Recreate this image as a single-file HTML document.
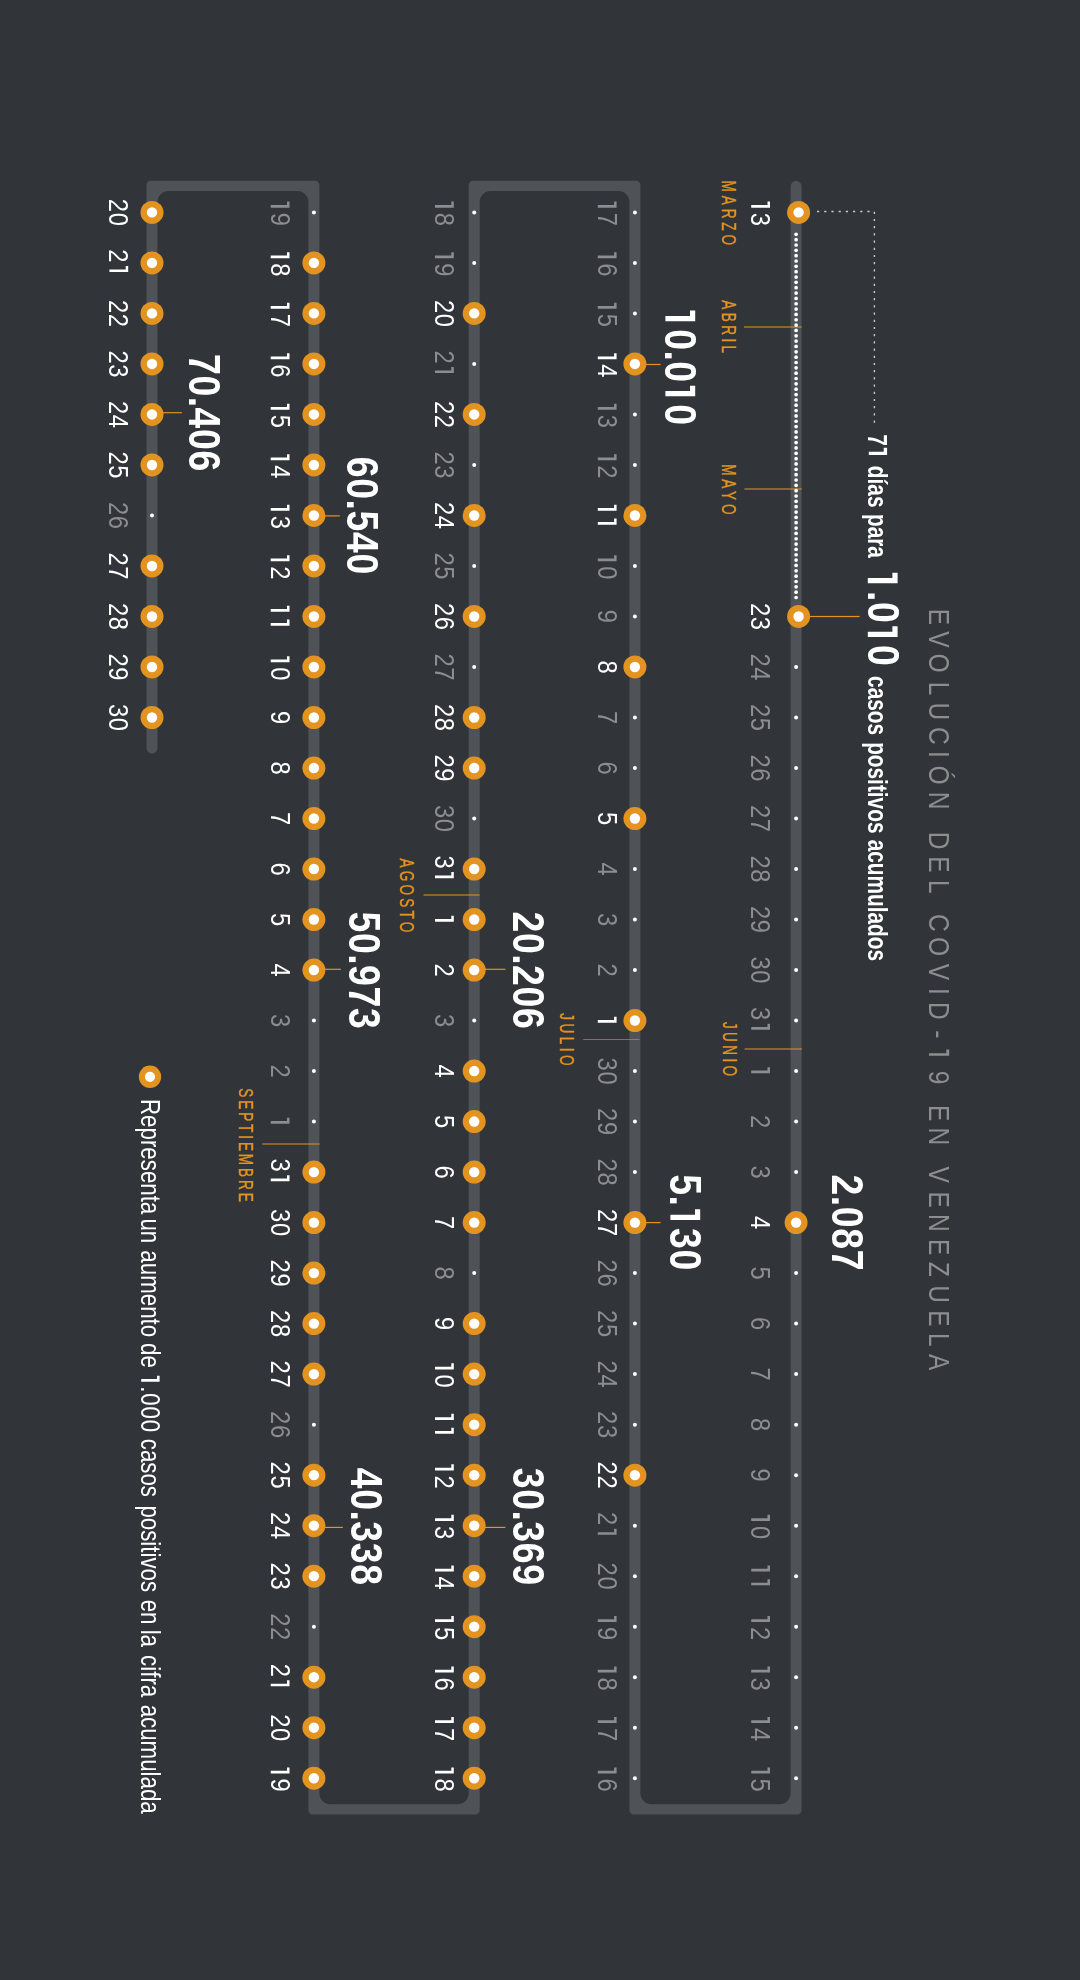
<!DOCTYPE html>
<html><head><meta charset="utf-8"><style>
html,body{margin:0;padding:0;background:#313438;width:1080px;height:1980px;overflow:hidden}
svg{display:block;will-change:transform}
</style></head><body>
<svg width="1080" height="1980" viewBox="0 0 1080 1980">
<rect x="0" y="0" width="1080" height="1980" fill="#313438"/>
<path d="M790.60,186.30 A5.5,5.5 0 0 1 801.60,186.30 L801.60,1810.10 A4.3,4.3 0 0 1 797.30,1814.40 L633.70,1814.40 A4.3,4.3 0 0 1 629.40,1810.10 L629.40,202.00 A11.0,11.0 0 0 0 618.40,191.00 L490.70,191.00 A11.0,11.0 0 0 0 479.70,202.00 L479.70,1810.10 A4.3,4.3 0 0 1 475.40,1814.40 L312.70,1814.40 A4.3,4.3 0 0 1 308.40,1810.10 L308.40,202.00 A11.0,11.0 0 0 0 297.40,191.00 L168.50,191.00 A11.0,11.0 0 0 0 157.50,202.00 L157.50,748.00 A5.5,5.5 0 0 1 146.50,748.00 L146.50,185.10 A4.3,4.3 0 0 1 150.80,180.80 L315.10,180.80 A4.3,4.3 0 0 1 319.40,185.10 L319.40,1793.20 A11.0,11.0 0 0 0 330.40,1804.20 L457.70,1804.20 A11.0,11.0 0 0 0 468.70,1793.20 L468.70,185.10 A4.3,4.3 0 0 1 473.00,180.80 L636.10,180.80 A4.3,4.3 0 0 1 640.40,185.10 L640.40,1793.20 A11.0,11.0 0 0 0 651.40,1804.20 L779.60,1804.20 A11.0,11.0 0 0 0 790.60,1793.20 Z" fill="#4f5358"/>
<rect x="744.00" y="326.50" width="57.60" height="1.0" fill="#e3931f" opacity="1"/>
<rect x="744.40" y="488.50" width="57.30" height="1.0" fill="#e3931f" opacity="1"/>
<rect x="744.70" y="1048.50" width="57.20" height="1.0" fill="#e3931f" opacity="1"/>
<rect x="583.10" y="1039.00" width="56.50" height="1.0" fill="#e3931f" opacity="0.6"/>
<rect x="423.50" y="894.50" width="56.10" height="1.0" fill="#e3931f" opacity="1"/>
<rect x="262.20" y="1143.50" width="57.40" height="1.0" fill="#e3931f" opacity="1"/>
<circle cx="796.1" cy="234.30" r="1.85" fill="#fff"/>
<circle cx="796.1" cy="239.64" r="1.85" fill="#fff"/>
<circle cx="796.1" cy="244.98" r="1.85" fill="#fff"/>
<circle cx="796.1" cy="250.32" r="1.85" fill="#fff"/>
<circle cx="796.1" cy="255.66" r="1.85" fill="#fff"/>
<circle cx="796.1" cy="261.01" r="1.85" fill="#fff"/>
<circle cx="796.1" cy="266.35" r="1.85" fill="#fff"/>
<circle cx="796.1" cy="271.69" r="1.85" fill="#fff"/>
<circle cx="796.1" cy="277.03" r="1.85" fill="#fff"/>
<circle cx="796.1" cy="282.37" r="1.85" fill="#fff"/>
<circle cx="796.1" cy="287.71" r="1.85" fill="#fff"/>
<circle cx="796.1" cy="293.05" r="1.85" fill="#fff"/>
<circle cx="796.1" cy="298.39" r="1.85" fill="#fff"/>
<circle cx="796.1" cy="303.74" r="1.85" fill="#fff"/>
<circle cx="796.1" cy="309.08" r="1.85" fill="#fff"/>
<circle cx="796.1" cy="314.42" r="1.85" fill="#fff"/>
<circle cx="796.1" cy="319.76" r="1.85" fill="#fff"/>
<circle cx="796.1" cy="325.10" r="1.85" fill="#fff"/>
<circle cx="796.1" cy="330.44" r="1.85" fill="#fff"/>
<circle cx="796.1" cy="335.78" r="1.85" fill="#fff"/>
<circle cx="796.1" cy="341.12" r="1.85" fill="#fff"/>
<circle cx="796.1" cy="346.46" r="1.85" fill="#fff"/>
<circle cx="796.1" cy="351.81" r="1.85" fill="#fff"/>
<circle cx="796.1" cy="357.15" r="1.85" fill="#fff"/>
<circle cx="796.1" cy="362.49" r="1.85" fill="#fff"/>
<circle cx="796.1" cy="367.83" r="1.85" fill="#fff"/>
<circle cx="796.1" cy="373.17" r="1.85" fill="#fff"/>
<circle cx="796.1" cy="378.51" r="1.85" fill="#fff"/>
<circle cx="796.1" cy="383.85" r="1.85" fill="#fff"/>
<circle cx="796.1" cy="389.19" r="1.85" fill="#fff"/>
<circle cx="796.1" cy="394.54" r="1.85" fill="#fff"/>
<circle cx="796.1" cy="399.88" r="1.85" fill="#fff"/>
<circle cx="796.1" cy="405.22" r="1.85" fill="#fff"/>
<circle cx="796.1" cy="410.56" r="1.85" fill="#fff"/>
<circle cx="796.1" cy="415.90" r="1.85" fill="#fff"/>
<circle cx="796.1" cy="421.24" r="1.85" fill="#fff"/>
<circle cx="796.1" cy="426.58" r="1.85" fill="#fff"/>
<circle cx="796.1" cy="431.92" r="1.85" fill="#fff"/>
<circle cx="796.1" cy="437.26" r="1.85" fill="#fff"/>
<circle cx="796.1" cy="442.61" r="1.85" fill="#fff"/>
<circle cx="796.1" cy="447.95" r="1.85" fill="#fff"/>
<circle cx="796.1" cy="453.29" r="1.85" fill="#fff"/>
<circle cx="796.1" cy="458.63" r="1.85" fill="#fff"/>
<circle cx="796.1" cy="463.97" r="1.85" fill="#fff"/>
<circle cx="796.1" cy="469.31" r="1.85" fill="#fff"/>
<circle cx="796.1" cy="474.65" r="1.85" fill="#fff"/>
<circle cx="796.1" cy="479.99" r="1.85" fill="#fff"/>
<circle cx="796.1" cy="485.34" r="1.85" fill="#fff"/>
<circle cx="796.1" cy="490.68" r="1.85" fill="#fff"/>
<circle cx="796.1" cy="496.02" r="1.85" fill="#fff"/>
<circle cx="796.1" cy="501.36" r="1.85" fill="#fff"/>
<circle cx="796.1" cy="506.70" r="1.85" fill="#fff"/>
<circle cx="796.1" cy="512.04" r="1.85" fill="#fff"/>
<circle cx="796.1" cy="517.38" r="1.85" fill="#fff"/>
<circle cx="796.1" cy="522.72" r="1.85" fill="#fff"/>
<circle cx="796.1" cy="528.06" r="1.85" fill="#fff"/>
<circle cx="796.1" cy="533.41" r="1.85" fill="#fff"/>
<circle cx="796.1" cy="538.75" r="1.85" fill="#fff"/>
<circle cx="796.1" cy="544.09" r="1.85" fill="#fff"/>
<circle cx="796.1" cy="549.43" r="1.85" fill="#fff"/>
<circle cx="796.1" cy="554.77" r="1.85" fill="#fff"/>
<circle cx="796.1" cy="560.11" r="1.85" fill="#fff"/>
<circle cx="796.1" cy="565.45" r="1.85" fill="#fff"/>
<circle cx="796.1" cy="570.79" r="1.85" fill="#fff"/>
<circle cx="796.1" cy="576.14" r="1.85" fill="#fff"/>
<circle cx="796.1" cy="581.48" r="1.85" fill="#fff"/>
<circle cx="796.1" cy="586.82" r="1.85" fill="#fff"/>
<circle cx="796.1" cy="592.16" r="1.85" fill="#fff"/>
<circle cx="796.1" cy="597.50" r="1.85" fill="#fff"/>
<rect x="808.60" y="615.90" width="51.00" height="1.2" fill="#e3931f" opacity="1"/>
<rect x="644.90" y="1222.00" width="15.70" height="1.2" fill="#e3931f" opacity="1"/>
<rect x="644.90" y="363.90" width="15.80" height="1.2" fill="#e3931f" opacity="1"/>
<rect x="484.20" y="968.70" width="21.20" height="1.2" fill="#e3931f" opacity="1"/>
<rect x="484.20" y="1526.80" width="21.20" height="1.2" fill="#e3931f" opacity="1"/>
<rect x="323.90" y="1526.80" width="18.90" height="1.2" fill="#e3931f" opacity="1"/>
<rect x="323.90" y="968.70" width="17.00" height="1.2" fill="#e3931f" opacity="1"/>
<rect x="323.90" y="515.30" width="15.90" height="1.2" fill="#e3931f" opacity="1"/>
<rect x="162.00" y="412.10" width="19.90" height="1.2" fill="#e3931f" opacity="1"/>
<path d="M817 211.5 H874.4 V423" fill="none" stroke="#c9cacb" stroke-width="1.4" stroke-dasharray="2.2 5"/>
<circle cx="798.60" cy="212.40" r="11.5" fill="#e3931f"/><circle cx="798.60" cy="212.40" r="5.2" fill="#fff"/>
<circle cx="798.60" cy="616.48" r="11.5" fill="#e3931f"/><circle cx="798.60" cy="616.48" r="5.2" fill="#fff"/>
<circle cx="796.10" cy="666.99" r="2.0" fill="#fff"/>
<circle cx="796.10" cy="717.50" r="2.0" fill="#fff"/>
<circle cx="796.10" cy="768.01" r="2.0" fill="#fff"/>
<circle cx="796.10" cy="818.52" r="2.0" fill="#fff"/>
<circle cx="796.10" cy="869.03" r="2.0" fill="#fff"/>
<circle cx="796.10" cy="919.54" r="2.0" fill="#fff"/>
<circle cx="796.10" cy="970.05" r="2.0" fill="#fff"/>
<circle cx="796.10" cy="1020.55" r="2.0" fill="#fff"/>
<circle cx="796.10" cy="1071.06" r="2.0" fill="#fff"/>
<circle cx="796.10" cy="1121.57" r="2.0" fill="#fff"/>
<circle cx="796.10" cy="1172.08" r="2.0" fill="#fff"/>
<circle cx="796.10" cy="1222.59" r="11.5" fill="#e3931f"/><circle cx="796.10" cy="1222.59" r="5.2" fill="#fff"/>
<circle cx="796.10" cy="1273.10" r="2.0" fill="#fff"/>
<circle cx="796.10" cy="1323.61" r="2.0" fill="#fff"/>
<circle cx="796.10" cy="1374.12" r="2.0" fill="#fff"/>
<circle cx="796.10" cy="1424.63" r="2.0" fill="#fff"/>
<circle cx="796.10" cy="1475.14" r="2.0" fill="#fff"/>
<circle cx="796.10" cy="1525.65" r="2.0" fill="#fff"/>
<circle cx="796.10" cy="1576.16" r="2.0" fill="#fff"/>
<circle cx="796.10" cy="1626.67" r="2.0" fill="#fff"/>
<circle cx="796.10" cy="1677.18" r="2.0" fill="#fff"/>
<circle cx="796.10" cy="1727.69" r="2.0" fill="#fff"/>
<circle cx="796.10" cy="1778.20" r="2.0" fill="#fff"/>
<circle cx="634.90" cy="1778.20" r="2.0" fill="#fff"/>
<circle cx="634.90" cy="1727.69" r="2.0" fill="#fff"/>
<circle cx="634.90" cy="1677.18" r="2.0" fill="#fff"/>
<circle cx="634.90" cy="1626.67" r="2.0" fill="#fff"/>
<circle cx="634.90" cy="1576.16" r="2.0" fill="#fff"/>
<circle cx="634.90" cy="1525.65" r="2.0" fill="#fff"/>
<circle cx="634.90" cy="1475.14" r="11.5" fill="#e3931f"/><circle cx="634.90" cy="1475.14" r="5.2" fill="#fff"/>
<circle cx="634.90" cy="1424.63" r="2.0" fill="#fff"/>
<circle cx="634.90" cy="1374.12" r="2.0" fill="#fff"/>
<circle cx="634.90" cy="1323.61" r="2.0" fill="#fff"/>
<circle cx="634.90" cy="1273.10" r="2.0" fill="#fff"/>
<circle cx="634.90" cy="1222.59" r="11.5" fill="#e3931f"/><circle cx="634.90" cy="1222.59" r="5.2" fill="#fff"/>
<circle cx="634.90" cy="1172.08" r="2.0" fill="#fff"/>
<circle cx="634.90" cy="1121.57" r="2.0" fill="#fff"/>
<circle cx="634.90" cy="1071.06" r="2.0" fill="#fff"/>
<circle cx="634.90" cy="1020.55" r="11.5" fill="#e3931f"/><circle cx="634.90" cy="1020.55" r="5.2" fill="#fff"/>
<circle cx="634.90" cy="970.05" r="2.0" fill="#fff"/>
<circle cx="634.90" cy="919.54" r="2.0" fill="#fff"/>
<circle cx="634.90" cy="869.03" r="2.0" fill="#fff"/>
<circle cx="634.90" cy="818.52" r="11.5" fill="#e3931f"/><circle cx="634.90" cy="818.52" r="5.2" fill="#fff"/>
<circle cx="634.90" cy="768.01" r="2.0" fill="#fff"/>
<circle cx="634.90" cy="717.50" r="2.0" fill="#fff"/>
<circle cx="634.90" cy="666.99" r="11.5" fill="#e3931f"/><circle cx="634.90" cy="666.99" r="5.2" fill="#fff"/>
<circle cx="634.90" cy="616.48" r="2.0" fill="#fff"/>
<circle cx="634.90" cy="565.97" r="2.0" fill="#fff"/>
<circle cx="634.90" cy="515.46" r="11.5" fill="#e3931f"/><circle cx="634.90" cy="515.46" r="5.2" fill="#fff"/>
<circle cx="634.90" cy="464.95" r="2.0" fill="#fff"/>
<circle cx="634.90" cy="414.44" r="2.0" fill="#fff"/>
<circle cx="634.90" cy="363.93" r="11.5" fill="#e3931f"/><circle cx="634.90" cy="363.93" r="5.2" fill="#fff"/>
<circle cx="634.90" cy="313.42" r="2.0" fill="#fff"/>
<circle cx="634.90" cy="262.91" r="2.0" fill="#fff"/>
<circle cx="634.90" cy="212.40" r="2.0" fill="#fff"/>
<circle cx="474.20" cy="212.40" r="2.0" fill="#fff"/>
<circle cx="474.20" cy="262.91" r="2.0" fill="#fff"/>
<circle cx="474.20" cy="313.42" r="11.5" fill="#e3931f"/><circle cx="474.20" cy="313.42" r="5.2" fill="#fff"/>
<circle cx="474.20" cy="363.93" r="2.0" fill="#fff"/>
<circle cx="474.20" cy="414.44" r="11.5" fill="#e3931f"/><circle cx="474.20" cy="414.44" r="5.2" fill="#fff"/>
<circle cx="474.20" cy="464.95" r="2.0" fill="#fff"/>
<circle cx="474.20" cy="515.46" r="11.5" fill="#e3931f"/><circle cx="474.20" cy="515.46" r="5.2" fill="#fff"/>
<circle cx="474.20" cy="565.97" r="2.0" fill="#fff"/>
<circle cx="474.20" cy="616.48" r="11.5" fill="#e3931f"/><circle cx="474.20" cy="616.48" r="5.2" fill="#fff"/>
<circle cx="474.20" cy="666.99" r="2.0" fill="#fff"/>
<circle cx="474.20" cy="717.50" r="11.5" fill="#e3931f"/><circle cx="474.20" cy="717.50" r="5.2" fill="#fff"/>
<circle cx="474.20" cy="768.01" r="11.5" fill="#e3931f"/><circle cx="474.20" cy="768.01" r="5.2" fill="#fff"/>
<circle cx="474.20" cy="818.52" r="2.0" fill="#fff"/>
<circle cx="474.20" cy="869.03" r="11.5" fill="#e3931f"/><circle cx="474.20" cy="869.03" r="5.2" fill="#fff"/>
<circle cx="474.20" cy="919.54" r="11.5" fill="#e3931f"/><circle cx="474.20" cy="919.54" r="5.2" fill="#fff"/>
<circle cx="474.20" cy="970.05" r="11.5" fill="#e3931f"/><circle cx="474.20" cy="970.05" r="5.2" fill="#fff"/>
<circle cx="474.20" cy="1020.55" r="2.0" fill="#fff"/>
<circle cx="474.20" cy="1071.06" r="11.5" fill="#e3931f"/><circle cx="474.20" cy="1071.06" r="5.2" fill="#fff"/>
<circle cx="474.20" cy="1121.57" r="11.5" fill="#e3931f"/><circle cx="474.20" cy="1121.57" r="5.2" fill="#fff"/>
<circle cx="474.20" cy="1172.08" r="11.5" fill="#e3931f"/><circle cx="474.20" cy="1172.08" r="5.2" fill="#fff"/>
<circle cx="474.20" cy="1222.59" r="11.5" fill="#e3931f"/><circle cx="474.20" cy="1222.59" r="5.2" fill="#fff"/>
<circle cx="474.20" cy="1273.10" r="2.0" fill="#fff"/>
<circle cx="474.20" cy="1323.61" r="11.5" fill="#e3931f"/><circle cx="474.20" cy="1323.61" r="5.2" fill="#fff"/>
<circle cx="474.20" cy="1374.12" r="11.5" fill="#e3931f"/><circle cx="474.20" cy="1374.12" r="5.2" fill="#fff"/>
<circle cx="474.20" cy="1424.63" r="11.5" fill="#e3931f"/><circle cx="474.20" cy="1424.63" r="5.2" fill="#fff"/>
<circle cx="474.20" cy="1475.14" r="11.5" fill="#e3931f"/><circle cx="474.20" cy="1475.14" r="5.2" fill="#fff"/>
<circle cx="474.20" cy="1525.65" r="11.5" fill="#e3931f"/><circle cx="474.20" cy="1525.65" r="5.2" fill="#fff"/>
<circle cx="474.20" cy="1576.16" r="11.5" fill="#e3931f"/><circle cx="474.20" cy="1576.16" r="5.2" fill="#fff"/>
<circle cx="474.20" cy="1626.67" r="11.5" fill="#e3931f"/><circle cx="474.20" cy="1626.67" r="5.2" fill="#fff"/>
<circle cx="474.20" cy="1677.18" r="11.5" fill="#e3931f"/><circle cx="474.20" cy="1677.18" r="5.2" fill="#fff"/>
<circle cx="474.20" cy="1727.69" r="11.5" fill="#e3931f"/><circle cx="474.20" cy="1727.69" r="5.2" fill="#fff"/>
<circle cx="474.20" cy="1778.20" r="11.5" fill="#e3931f"/><circle cx="474.20" cy="1778.20" r="5.2" fill="#fff"/>
<circle cx="313.90" cy="1778.20" r="11.5" fill="#e3931f"/><circle cx="313.90" cy="1778.20" r="5.2" fill="#fff"/>
<circle cx="313.90" cy="1727.69" r="11.5" fill="#e3931f"/><circle cx="313.90" cy="1727.69" r="5.2" fill="#fff"/>
<circle cx="313.90" cy="1677.18" r="11.5" fill="#e3931f"/><circle cx="313.90" cy="1677.18" r="5.2" fill="#fff"/>
<circle cx="313.90" cy="1626.67" r="2.0" fill="#fff"/>
<circle cx="313.90" cy="1576.16" r="11.5" fill="#e3931f"/><circle cx="313.90" cy="1576.16" r="5.2" fill="#fff"/>
<circle cx="313.90" cy="1525.65" r="11.5" fill="#e3931f"/><circle cx="313.90" cy="1525.65" r="5.2" fill="#fff"/>
<circle cx="313.90" cy="1475.14" r="11.5" fill="#e3931f"/><circle cx="313.90" cy="1475.14" r="5.2" fill="#fff"/>
<circle cx="313.90" cy="1424.63" r="2.0" fill="#fff"/>
<circle cx="313.90" cy="1374.12" r="11.5" fill="#e3931f"/><circle cx="313.90" cy="1374.12" r="5.2" fill="#fff"/>
<circle cx="313.90" cy="1323.61" r="11.5" fill="#e3931f"/><circle cx="313.90" cy="1323.61" r="5.2" fill="#fff"/>
<circle cx="313.90" cy="1273.10" r="11.5" fill="#e3931f"/><circle cx="313.90" cy="1273.10" r="5.2" fill="#fff"/>
<circle cx="313.90" cy="1222.59" r="11.5" fill="#e3931f"/><circle cx="313.90" cy="1222.59" r="5.2" fill="#fff"/>
<circle cx="313.90" cy="1172.08" r="11.5" fill="#e3931f"/><circle cx="313.90" cy="1172.08" r="5.2" fill="#fff"/>
<circle cx="313.90" cy="1121.57" r="2.0" fill="#fff"/>
<circle cx="313.90" cy="1071.06" r="2.0" fill="#fff"/>
<circle cx="313.90" cy="1020.55" r="2.0" fill="#fff"/>
<circle cx="313.90" cy="970.05" r="11.5" fill="#e3931f"/><circle cx="313.90" cy="970.05" r="5.2" fill="#fff"/>
<circle cx="313.90" cy="919.54" r="11.5" fill="#e3931f"/><circle cx="313.90" cy="919.54" r="5.2" fill="#fff"/>
<circle cx="313.90" cy="869.03" r="11.5" fill="#e3931f"/><circle cx="313.90" cy="869.03" r="5.2" fill="#fff"/>
<circle cx="313.90" cy="818.52" r="11.5" fill="#e3931f"/><circle cx="313.90" cy="818.52" r="5.2" fill="#fff"/>
<circle cx="313.90" cy="768.01" r="11.5" fill="#e3931f"/><circle cx="313.90" cy="768.01" r="5.2" fill="#fff"/>
<circle cx="313.90" cy="717.50" r="11.5" fill="#e3931f"/><circle cx="313.90" cy="717.50" r="5.2" fill="#fff"/>
<circle cx="313.90" cy="666.99" r="11.5" fill="#e3931f"/><circle cx="313.90" cy="666.99" r="5.2" fill="#fff"/>
<circle cx="313.90" cy="616.48" r="11.5" fill="#e3931f"/><circle cx="313.90" cy="616.48" r="5.2" fill="#fff"/>
<circle cx="313.90" cy="565.97" r="11.5" fill="#e3931f"/><circle cx="313.90" cy="565.97" r="5.2" fill="#fff"/>
<circle cx="313.90" cy="515.46" r="11.5" fill="#e3931f"/><circle cx="313.90" cy="515.46" r="5.2" fill="#fff"/>
<circle cx="313.90" cy="464.95" r="11.5" fill="#e3931f"/><circle cx="313.90" cy="464.95" r="5.2" fill="#fff"/>
<circle cx="313.90" cy="414.44" r="11.5" fill="#e3931f"/><circle cx="313.90" cy="414.44" r="5.2" fill="#fff"/>
<circle cx="313.90" cy="363.93" r="11.5" fill="#e3931f"/><circle cx="313.90" cy="363.93" r="5.2" fill="#fff"/>
<circle cx="313.90" cy="313.42" r="11.5" fill="#e3931f"/><circle cx="313.90" cy="313.42" r="5.2" fill="#fff"/>
<circle cx="313.90" cy="262.91" r="11.5" fill="#e3931f"/><circle cx="313.90" cy="262.91" r="5.2" fill="#fff"/>
<circle cx="313.90" cy="212.40" r="2.0" fill="#fff"/>
<circle cx="152.00" cy="212.40" r="11.5" fill="#e3931f"/><circle cx="152.00" cy="212.40" r="5.2" fill="#fff"/>
<circle cx="152.00" cy="262.91" r="11.5" fill="#e3931f"/><circle cx="152.00" cy="262.91" r="5.2" fill="#fff"/>
<circle cx="152.00" cy="313.42" r="11.5" fill="#e3931f"/><circle cx="152.00" cy="313.42" r="5.2" fill="#fff"/>
<circle cx="152.00" cy="363.93" r="11.5" fill="#e3931f"/><circle cx="152.00" cy="363.93" r="5.2" fill="#fff"/>
<circle cx="152.00" cy="414.44" r="11.5" fill="#e3931f"/><circle cx="152.00" cy="414.44" r="5.2" fill="#fff"/>
<circle cx="152.00" cy="464.95" r="11.5" fill="#e3931f"/><circle cx="152.00" cy="464.95" r="5.2" fill="#fff"/>
<circle cx="152.00" cy="515.46" r="2.0" fill="#fff"/>
<circle cx="152.00" cy="565.97" r="11.5" fill="#e3931f"/><circle cx="152.00" cy="565.97" r="5.2" fill="#fff"/>
<circle cx="152.00" cy="616.48" r="11.5" fill="#e3931f"/><circle cx="152.00" cy="616.48" r="5.2" fill="#fff"/>
<circle cx="152.00" cy="666.99" r="11.5" fill="#e3931f"/><circle cx="152.00" cy="666.99" r="5.2" fill="#fff"/>
<circle cx="152.00" cy="717.50" r="11.5" fill="#e3931f"/><circle cx="152.00" cy="717.50" r="5.2" fill="#fff"/>
<circle cx="150" cy="1076.8" r="11.2" fill="#e3931f"/><circle cx="150" cy="1076.8" r="5.1" fill="#fff"/>
<path d="M751.20,205.02 L751.20,207.72 L770.00,207.72 L770.00,201.62 L767.50,201.62 L767.50,205.02 Z" fill="#ffffff"/>
<text transform="translate(751.20,219.33) rotate(90) scale(0.85,1)" font-family="Liberation Sans" font-size="28" font-weight="normal" fill="#ffffff" text-anchor="middle">3</text>
<text transform="translate(751.20,609.55) rotate(90) scale(0.85,1)" font-family="Liberation Sans" font-size="28" font-weight="normal" fill="#ffffff" text-anchor="middle">2</text>
<text transform="translate(751.20,623.41) rotate(90) scale(0.85,1)" font-family="Liberation Sans" font-size="28" font-weight="normal" fill="#ffffff" text-anchor="middle">3</text>
<text transform="translate(751.20,660.06) rotate(90) scale(0.85,1)" font-family="Liberation Sans" font-size="28" font-weight="normal" fill="#8b8d90" text-anchor="middle">2</text>
<text transform="translate(751.20,673.92) rotate(90) scale(0.85,1)" font-family="Liberation Sans" font-size="28" font-weight="normal" fill="#8b8d90" text-anchor="middle">4</text>
<text transform="translate(751.20,710.57) rotate(90) scale(0.85,1)" font-family="Liberation Sans" font-size="28" font-weight="normal" fill="#8b8d90" text-anchor="middle">2</text>
<text transform="translate(751.20,724.43) rotate(90) scale(0.85,1)" font-family="Liberation Sans" font-size="28" font-weight="normal" fill="#8b8d90" text-anchor="middle">5</text>
<text transform="translate(751.20,761.08) rotate(90) scale(0.85,1)" font-family="Liberation Sans" font-size="28" font-weight="normal" fill="#8b8d90" text-anchor="middle">2</text>
<text transform="translate(751.20,774.94) rotate(90) scale(0.85,1)" font-family="Liberation Sans" font-size="28" font-weight="normal" fill="#8b8d90" text-anchor="middle">6</text>
<text transform="translate(751.20,811.59) rotate(90) scale(0.85,1)" font-family="Liberation Sans" font-size="28" font-weight="normal" fill="#8b8d90" text-anchor="middle">2</text>
<text transform="translate(751.20,825.45) rotate(90) scale(0.85,1)" font-family="Liberation Sans" font-size="28" font-weight="normal" fill="#8b8d90" text-anchor="middle">7</text>
<text transform="translate(751.20,862.10) rotate(90) scale(0.85,1)" font-family="Liberation Sans" font-size="28" font-weight="normal" fill="#8b8d90" text-anchor="middle">2</text>
<text transform="translate(751.20,875.96) rotate(90) scale(0.85,1)" font-family="Liberation Sans" font-size="28" font-weight="normal" fill="#8b8d90" text-anchor="middle">8</text>
<text transform="translate(751.20,912.61) rotate(90) scale(0.85,1)" font-family="Liberation Sans" font-size="28" font-weight="normal" fill="#8b8d90" text-anchor="middle">2</text>
<text transform="translate(751.20,926.47) rotate(90) scale(0.85,1)" font-family="Liberation Sans" font-size="28" font-weight="normal" fill="#8b8d90" text-anchor="middle">9</text>
<text transform="translate(751.20,963.12) rotate(90) scale(0.85,1)" font-family="Liberation Sans" font-size="28" font-weight="normal" fill="#8b8d90" text-anchor="middle">3</text>
<text transform="translate(751.20,976.98) rotate(90) scale(0.85,1)" font-family="Liberation Sans" font-size="28" font-weight="normal" fill="#8b8d90" text-anchor="middle">0</text>
<text transform="translate(751.20,1013.62) rotate(90) scale(0.85,1)" font-family="Liberation Sans" font-size="28" font-weight="normal" fill="#8b8d90" text-anchor="middle">3</text>
<path d="M751.20,1027.03 L751.20,1029.73 L770.00,1029.73 L770.00,1023.63 L767.50,1023.63 L767.50,1027.03 Z" fill="#8b8d90"/>
<path d="M751.20,1070.61 L751.20,1073.31 L770.00,1073.31 L770.00,1067.21 L767.50,1067.21 L767.50,1070.61 Z" fill="#8b8d90"/>
<text transform="translate(751.20,1121.57) rotate(90) scale(0.85,1)" font-family="Liberation Sans" font-size="28" font-weight="normal" fill="#8b8d90" text-anchor="middle">2</text>
<text transform="translate(751.20,1172.08) rotate(90) scale(0.85,1)" font-family="Liberation Sans" font-size="28" font-weight="normal" fill="#8b8d90" text-anchor="middle">3</text>
<text transform="translate(751.20,1222.59) rotate(90) scale(0.85,1)" font-family="Liberation Sans" font-size="28" font-weight="normal" fill="#ffffff" text-anchor="middle">4</text>
<text transform="translate(751.20,1273.10) rotate(90) scale(0.85,1)" font-family="Liberation Sans" font-size="28" font-weight="normal" fill="#8b8d90" text-anchor="middle">5</text>
<text transform="translate(751.20,1323.61) rotate(90) scale(0.85,1)" font-family="Liberation Sans" font-size="28" font-weight="normal" fill="#8b8d90" text-anchor="middle">6</text>
<text transform="translate(751.20,1374.12) rotate(90) scale(0.85,1)" font-family="Liberation Sans" font-size="28" font-weight="normal" fill="#8b8d90" text-anchor="middle">7</text>
<text transform="translate(751.20,1424.63) rotate(90) scale(0.85,1)" font-family="Liberation Sans" font-size="28" font-weight="normal" fill="#8b8d90" text-anchor="middle">8</text>
<text transform="translate(751.20,1475.14) rotate(90) scale(0.85,1)" font-family="Liberation Sans" font-size="28" font-weight="normal" fill="#8b8d90" text-anchor="middle">9</text>
<path d="M751.20,1518.27 L751.20,1520.97 L770.00,1520.97 L770.00,1514.87 L767.50,1514.87 L767.50,1518.27 Z" fill="#8b8d90"/>
<text transform="translate(751.20,1532.58) rotate(90) scale(0.85,1)" font-family="Liberation Sans" font-size="28" font-weight="normal" fill="#8b8d90" text-anchor="middle">0</text>
<path d="M751.20,1568.78 L751.20,1571.48 L770.00,1571.48 L770.00,1565.38 L767.50,1565.38 L767.50,1568.78 Z" fill="#8b8d90"/>
<path d="M751.20,1582.64 L751.20,1585.34 L770.00,1585.34 L770.00,1579.24 L767.50,1579.24 L767.50,1582.64 Z" fill="#8b8d90"/>
<path d="M751.20,1619.29 L751.20,1621.99 L770.00,1621.99 L770.00,1615.89 L767.50,1615.89 L767.50,1619.29 Z" fill="#8b8d90"/>
<text transform="translate(751.20,1633.60) rotate(90) scale(0.85,1)" font-family="Liberation Sans" font-size="28" font-weight="normal" fill="#8b8d90" text-anchor="middle">2</text>
<path d="M751.20,1669.80 L751.20,1672.50 L770.00,1672.50 L770.00,1666.40 L767.50,1666.40 L767.50,1669.80 Z" fill="#8b8d90"/>
<text transform="translate(751.20,1684.11) rotate(90) scale(0.85,1)" font-family="Liberation Sans" font-size="28" font-weight="normal" fill="#8b8d90" text-anchor="middle">3</text>
<path d="M751.20,1720.31 L751.20,1723.01 L770.00,1723.01 L770.00,1716.91 L767.50,1716.91 L767.50,1720.31 Z" fill="#8b8d90"/>
<text transform="translate(751.20,1734.62) rotate(90) scale(0.85,1)" font-family="Liberation Sans" font-size="28" font-weight="normal" fill="#8b8d90" text-anchor="middle">4</text>
<path d="M751.20,1770.82 L751.20,1773.52 L770.00,1773.52 L770.00,1767.42 L767.50,1767.42 L767.50,1770.82 Z" fill="#8b8d90"/>
<text transform="translate(751.20,1785.13) rotate(90) scale(0.85,1)" font-family="Liberation Sans" font-size="28" font-weight="normal" fill="#8b8d90" text-anchor="middle">5</text>
<path d="M597.80,1770.82 L597.80,1773.52 L616.60,1773.52 L616.60,1767.42 L614.10,1767.42 L614.10,1770.82 Z" fill="#8b8d90"/>
<text transform="translate(597.80,1785.13) rotate(90) scale(0.85,1)" font-family="Liberation Sans" font-size="28" font-weight="normal" fill="#8b8d90" text-anchor="middle">6</text>
<path d="M597.80,1720.31 L597.80,1723.01 L616.60,1723.01 L616.60,1716.91 L614.10,1716.91 L614.10,1720.31 Z" fill="#8b8d90"/>
<text transform="translate(597.80,1734.62) rotate(90) scale(0.85,1)" font-family="Liberation Sans" font-size="28" font-weight="normal" fill="#8b8d90" text-anchor="middle">7</text>
<path d="M597.80,1669.80 L597.80,1672.50 L616.60,1672.50 L616.60,1666.40 L614.10,1666.40 L614.10,1669.80 Z" fill="#8b8d90"/>
<text transform="translate(597.80,1684.11) rotate(90) scale(0.85,1)" font-family="Liberation Sans" font-size="28" font-weight="normal" fill="#8b8d90" text-anchor="middle">8</text>
<path d="M597.80,1619.29 L597.80,1621.99 L616.60,1621.99 L616.60,1615.89 L614.10,1615.89 L614.10,1619.29 Z" fill="#8b8d90"/>
<text transform="translate(597.80,1633.60) rotate(90) scale(0.85,1)" font-family="Liberation Sans" font-size="28" font-weight="normal" fill="#8b8d90" text-anchor="middle">9</text>
<text transform="translate(597.80,1569.23) rotate(90) scale(0.85,1)" font-family="Liberation Sans" font-size="28" font-weight="normal" fill="#8b8d90" text-anchor="middle">2</text>
<text transform="translate(597.80,1583.09) rotate(90) scale(0.85,1)" font-family="Liberation Sans" font-size="28" font-weight="normal" fill="#8b8d90" text-anchor="middle">0</text>
<text transform="translate(597.80,1518.72) rotate(90) scale(0.85,1)" font-family="Liberation Sans" font-size="28" font-weight="normal" fill="#8b8d90" text-anchor="middle">2</text>
<path d="M597.80,1532.13 L597.80,1534.83 L616.60,1534.83 L616.60,1528.73 L614.10,1528.73 L614.10,1532.13 Z" fill="#8b8d90"/>
<text transform="translate(597.80,1468.21) rotate(90) scale(0.85,1)" font-family="Liberation Sans" font-size="28" font-weight="normal" fill="#ffffff" text-anchor="middle">2</text>
<text transform="translate(597.80,1482.07) rotate(90) scale(0.85,1)" font-family="Liberation Sans" font-size="28" font-weight="normal" fill="#ffffff" text-anchor="middle">2</text>
<text transform="translate(597.80,1417.70) rotate(90) scale(0.85,1)" font-family="Liberation Sans" font-size="28" font-weight="normal" fill="#8b8d90" text-anchor="middle">2</text>
<text transform="translate(597.80,1431.56) rotate(90) scale(0.85,1)" font-family="Liberation Sans" font-size="28" font-weight="normal" fill="#8b8d90" text-anchor="middle">3</text>
<text transform="translate(597.80,1367.19) rotate(90) scale(0.85,1)" font-family="Liberation Sans" font-size="28" font-weight="normal" fill="#8b8d90" text-anchor="middle">2</text>
<text transform="translate(597.80,1381.05) rotate(90) scale(0.85,1)" font-family="Liberation Sans" font-size="28" font-weight="normal" fill="#8b8d90" text-anchor="middle">4</text>
<text transform="translate(597.80,1316.68) rotate(90) scale(0.85,1)" font-family="Liberation Sans" font-size="28" font-weight="normal" fill="#8b8d90" text-anchor="middle">2</text>
<text transform="translate(597.80,1330.54) rotate(90) scale(0.85,1)" font-family="Liberation Sans" font-size="28" font-weight="normal" fill="#8b8d90" text-anchor="middle">5</text>
<text transform="translate(597.80,1266.17) rotate(90) scale(0.85,1)" font-family="Liberation Sans" font-size="28" font-weight="normal" fill="#8b8d90" text-anchor="middle">2</text>
<text transform="translate(597.80,1280.03) rotate(90) scale(0.85,1)" font-family="Liberation Sans" font-size="28" font-weight="normal" fill="#8b8d90" text-anchor="middle">6</text>
<text transform="translate(597.80,1215.66) rotate(90) scale(0.85,1)" font-family="Liberation Sans" font-size="28" font-weight="normal" fill="#ffffff" text-anchor="middle">2</text>
<text transform="translate(597.80,1229.52) rotate(90) scale(0.85,1)" font-family="Liberation Sans" font-size="28" font-weight="normal" fill="#ffffff" text-anchor="middle">7</text>
<text transform="translate(597.80,1165.15) rotate(90) scale(0.85,1)" font-family="Liberation Sans" font-size="28" font-weight="normal" fill="#8b8d90" text-anchor="middle">2</text>
<text transform="translate(597.80,1179.01) rotate(90) scale(0.85,1)" font-family="Liberation Sans" font-size="28" font-weight="normal" fill="#8b8d90" text-anchor="middle">8</text>
<text transform="translate(597.80,1114.64) rotate(90) scale(0.85,1)" font-family="Liberation Sans" font-size="28" font-weight="normal" fill="#8b8d90" text-anchor="middle">2</text>
<text transform="translate(597.80,1128.50) rotate(90) scale(0.85,1)" font-family="Liberation Sans" font-size="28" font-weight="normal" fill="#8b8d90" text-anchor="middle">9</text>
<text transform="translate(597.80,1064.13) rotate(90) scale(0.85,1)" font-family="Liberation Sans" font-size="28" font-weight="normal" fill="#8b8d90" text-anchor="middle">3</text>
<text transform="translate(597.80,1077.99) rotate(90) scale(0.85,1)" font-family="Liberation Sans" font-size="28" font-weight="normal" fill="#8b8d90" text-anchor="middle">0</text>
<path d="M597.80,1020.10 L597.80,1022.80 L616.60,1022.80 L616.60,1016.70 L614.10,1016.70 L614.10,1020.10 Z" fill="#ffffff"/>
<text transform="translate(597.80,970.05) rotate(90) scale(0.85,1)" font-family="Liberation Sans" font-size="28" font-weight="normal" fill="#8b8d90" text-anchor="middle">2</text>
<text transform="translate(597.80,919.54) rotate(90) scale(0.85,1)" font-family="Liberation Sans" font-size="28" font-weight="normal" fill="#8b8d90" text-anchor="middle">3</text>
<text transform="translate(597.80,869.03) rotate(90) scale(0.85,1)" font-family="Liberation Sans" font-size="28" font-weight="normal" fill="#8b8d90" text-anchor="middle">4</text>
<text transform="translate(597.80,818.52) rotate(90) scale(0.85,1)" font-family="Liberation Sans" font-size="28" font-weight="normal" fill="#ffffff" text-anchor="middle">5</text>
<text transform="translate(597.80,768.01) rotate(90) scale(0.85,1)" font-family="Liberation Sans" font-size="28" font-weight="normal" fill="#8b8d90" text-anchor="middle">6</text>
<text transform="translate(597.80,717.50) rotate(90) scale(0.85,1)" font-family="Liberation Sans" font-size="28" font-weight="normal" fill="#8b8d90" text-anchor="middle">7</text>
<text transform="translate(597.80,666.99) rotate(90) scale(0.85,1)" font-family="Liberation Sans" font-size="28" font-weight="normal" fill="#ffffff" text-anchor="middle">8</text>
<text transform="translate(597.80,616.48) rotate(90) scale(0.85,1)" font-family="Liberation Sans" font-size="28" font-weight="normal" fill="#8b8d90" text-anchor="middle">9</text>
<path d="M597.80,558.59 L597.80,561.29 L616.60,561.29 L616.60,555.19 L614.10,555.19 L614.10,558.59 Z" fill="#8b8d90"/>
<text transform="translate(597.80,572.90) rotate(90) scale(0.85,1)" font-family="Liberation Sans" font-size="28" font-weight="normal" fill="#8b8d90" text-anchor="middle">0</text>
<path d="M597.80,508.08 L597.80,510.78 L616.60,510.78 L616.60,504.68 L614.10,504.68 L614.10,508.08 Z" fill="#ffffff"/>
<path d="M597.80,521.94 L597.80,524.64 L616.60,524.64 L616.60,518.54 L614.10,518.54 L614.10,521.94 Z" fill="#ffffff"/>
<path d="M597.80,457.57 L597.80,460.27 L616.60,460.27 L616.60,454.17 L614.10,454.17 L614.10,457.57 Z" fill="#8b8d90"/>
<text transform="translate(597.80,471.88) rotate(90) scale(0.85,1)" font-family="Liberation Sans" font-size="28" font-weight="normal" fill="#8b8d90" text-anchor="middle">2</text>
<path d="M597.80,407.06 L597.80,409.76 L616.60,409.76 L616.60,403.66 L614.10,403.66 L614.10,407.06 Z" fill="#8b8d90"/>
<text transform="translate(597.80,421.37) rotate(90) scale(0.85,1)" font-family="Liberation Sans" font-size="28" font-weight="normal" fill="#8b8d90" text-anchor="middle">3</text>
<path d="M597.80,356.55 L597.80,359.25 L616.60,359.25 L616.60,353.15 L614.10,353.15 L614.10,356.55 Z" fill="#ffffff"/>
<text transform="translate(597.80,370.86) rotate(90) scale(0.85,1)" font-family="Liberation Sans" font-size="28" font-weight="normal" fill="#ffffff" text-anchor="middle">4</text>
<path d="M597.80,306.04 L597.80,308.74 L616.60,308.74 L616.60,302.64 L614.10,302.64 L614.10,306.04 Z" fill="#8b8d90"/>
<text transform="translate(597.80,320.35) rotate(90) scale(0.85,1)" font-family="Liberation Sans" font-size="28" font-weight="normal" fill="#8b8d90" text-anchor="middle">5</text>
<path d="M597.80,255.53 L597.80,258.23 L616.60,258.23 L616.60,252.13 L614.10,252.13 L614.10,255.53 Z" fill="#8b8d90"/>
<text transform="translate(597.80,269.84) rotate(90) scale(0.85,1)" font-family="Liberation Sans" font-size="28" font-weight="normal" fill="#8b8d90" text-anchor="middle">6</text>
<path d="M597.80,205.02 L597.80,207.72 L616.60,207.72 L616.60,201.62 L614.10,201.62 L614.10,205.02 Z" fill="#8b8d90"/>
<text transform="translate(597.80,219.33) rotate(90) scale(0.85,1)" font-family="Liberation Sans" font-size="28" font-weight="normal" fill="#8b8d90" text-anchor="middle">7</text>
<path d="M435.00,205.02 L435.00,207.72 L453.80,207.72 L453.80,201.62 L451.30,201.62 L451.30,205.02 Z" fill="#8b8d90"/>
<text transform="translate(435.00,219.33) rotate(90) scale(0.85,1)" font-family="Liberation Sans" font-size="28" font-weight="normal" fill="#8b8d90" text-anchor="middle">8</text>
<path d="M435.00,255.53 L435.00,258.23 L453.80,258.23 L453.80,252.13 L451.30,252.13 L451.30,255.53 Z" fill="#8b8d90"/>
<text transform="translate(435.00,269.84) rotate(90) scale(0.85,1)" font-family="Liberation Sans" font-size="28" font-weight="normal" fill="#8b8d90" text-anchor="middle">9</text>
<text transform="translate(435.00,306.49) rotate(90) scale(0.85,1)" font-family="Liberation Sans" font-size="28" font-weight="normal" fill="#ffffff" text-anchor="middle">2</text>
<text transform="translate(435.00,320.35) rotate(90) scale(0.85,1)" font-family="Liberation Sans" font-size="28" font-weight="normal" fill="#ffffff" text-anchor="middle">0</text>
<text transform="translate(435.00,357.00) rotate(90) scale(0.85,1)" font-family="Liberation Sans" font-size="28" font-weight="normal" fill="#8b8d90" text-anchor="middle">2</text>
<path d="M435.00,370.41 L435.00,373.11 L453.80,373.11 L453.80,367.01 L451.30,367.01 L451.30,370.41 Z" fill="#8b8d90"/>
<text transform="translate(435.00,407.51) rotate(90) scale(0.85,1)" font-family="Liberation Sans" font-size="28" font-weight="normal" fill="#ffffff" text-anchor="middle">2</text>
<text transform="translate(435.00,421.37) rotate(90) scale(0.85,1)" font-family="Liberation Sans" font-size="28" font-weight="normal" fill="#ffffff" text-anchor="middle">2</text>
<text transform="translate(435.00,458.02) rotate(90) scale(0.85,1)" font-family="Liberation Sans" font-size="28" font-weight="normal" fill="#8b8d90" text-anchor="middle">2</text>
<text transform="translate(435.00,471.88) rotate(90) scale(0.85,1)" font-family="Liberation Sans" font-size="28" font-weight="normal" fill="#8b8d90" text-anchor="middle">3</text>
<text transform="translate(435.00,508.53) rotate(90) scale(0.85,1)" font-family="Liberation Sans" font-size="28" font-weight="normal" fill="#ffffff" text-anchor="middle">2</text>
<text transform="translate(435.00,522.39) rotate(90) scale(0.85,1)" font-family="Liberation Sans" font-size="28" font-weight="normal" fill="#ffffff" text-anchor="middle">4</text>
<text transform="translate(435.00,559.04) rotate(90) scale(0.85,1)" font-family="Liberation Sans" font-size="28" font-weight="normal" fill="#8b8d90" text-anchor="middle">2</text>
<text transform="translate(435.00,572.90) rotate(90) scale(0.85,1)" font-family="Liberation Sans" font-size="28" font-weight="normal" fill="#8b8d90" text-anchor="middle">5</text>
<text transform="translate(435.00,609.55) rotate(90) scale(0.85,1)" font-family="Liberation Sans" font-size="28" font-weight="normal" fill="#ffffff" text-anchor="middle">2</text>
<text transform="translate(435.00,623.41) rotate(90) scale(0.85,1)" font-family="Liberation Sans" font-size="28" font-weight="normal" fill="#ffffff" text-anchor="middle">6</text>
<text transform="translate(435.00,660.06) rotate(90) scale(0.85,1)" font-family="Liberation Sans" font-size="28" font-weight="normal" fill="#8b8d90" text-anchor="middle">2</text>
<text transform="translate(435.00,673.92) rotate(90) scale(0.85,1)" font-family="Liberation Sans" font-size="28" font-weight="normal" fill="#8b8d90" text-anchor="middle">7</text>
<text transform="translate(435.00,710.57) rotate(90) scale(0.85,1)" font-family="Liberation Sans" font-size="28" font-weight="normal" fill="#ffffff" text-anchor="middle">2</text>
<text transform="translate(435.00,724.43) rotate(90) scale(0.85,1)" font-family="Liberation Sans" font-size="28" font-weight="normal" fill="#ffffff" text-anchor="middle">8</text>
<text transform="translate(435.00,761.08) rotate(90) scale(0.85,1)" font-family="Liberation Sans" font-size="28" font-weight="normal" fill="#ffffff" text-anchor="middle">2</text>
<text transform="translate(435.00,774.94) rotate(90) scale(0.85,1)" font-family="Liberation Sans" font-size="28" font-weight="normal" fill="#ffffff" text-anchor="middle">9</text>
<text transform="translate(435.00,811.59) rotate(90) scale(0.85,1)" font-family="Liberation Sans" font-size="28" font-weight="normal" fill="#8b8d90" text-anchor="middle">3</text>
<text transform="translate(435.00,825.45) rotate(90) scale(0.85,1)" font-family="Liberation Sans" font-size="28" font-weight="normal" fill="#8b8d90" text-anchor="middle">0</text>
<text transform="translate(435.00,862.10) rotate(90) scale(0.85,1)" font-family="Liberation Sans" font-size="28" font-weight="normal" fill="#ffffff" text-anchor="middle">3</text>
<path d="M435.00,875.51 L435.00,878.21 L453.80,878.21 L453.80,872.11 L451.30,872.11 L451.30,875.51 Z" fill="#ffffff"/>
<path d="M435.00,919.09 L435.00,921.79 L453.80,921.79 L453.80,915.69 L451.30,915.69 L451.30,919.09 Z" fill="#ffffff"/>
<text transform="translate(435.00,970.05) rotate(90) scale(0.85,1)" font-family="Liberation Sans" font-size="28" font-weight="normal" fill="#ffffff" text-anchor="middle">2</text>
<text transform="translate(435.00,1020.55) rotate(90) scale(0.85,1)" font-family="Liberation Sans" font-size="28" font-weight="normal" fill="#8b8d90" text-anchor="middle">3</text>
<text transform="translate(435.00,1071.06) rotate(90) scale(0.85,1)" font-family="Liberation Sans" font-size="28" font-weight="normal" fill="#ffffff" text-anchor="middle">4</text>
<text transform="translate(435.00,1121.57) rotate(90) scale(0.85,1)" font-family="Liberation Sans" font-size="28" font-weight="normal" fill="#ffffff" text-anchor="middle">5</text>
<text transform="translate(435.00,1172.08) rotate(90) scale(0.85,1)" font-family="Liberation Sans" font-size="28" font-weight="normal" fill="#ffffff" text-anchor="middle">6</text>
<text transform="translate(435.00,1222.59) rotate(90) scale(0.85,1)" font-family="Liberation Sans" font-size="28" font-weight="normal" fill="#ffffff" text-anchor="middle">7</text>
<text transform="translate(435.00,1273.10) rotate(90) scale(0.85,1)" font-family="Liberation Sans" font-size="28" font-weight="normal" fill="#8b8d90" text-anchor="middle">8</text>
<text transform="translate(435.00,1323.61) rotate(90) scale(0.85,1)" font-family="Liberation Sans" font-size="28" font-weight="normal" fill="#ffffff" text-anchor="middle">9</text>
<path d="M435.00,1366.74 L435.00,1369.44 L453.80,1369.44 L453.80,1363.34 L451.30,1363.34 L451.30,1366.74 Z" fill="#ffffff"/>
<text transform="translate(435.00,1381.05) rotate(90) scale(0.85,1)" font-family="Liberation Sans" font-size="28" font-weight="normal" fill="#ffffff" text-anchor="middle">0</text>
<path d="M435.00,1417.25 L435.00,1419.95 L453.80,1419.95 L453.80,1413.85 L451.30,1413.85 L451.30,1417.25 Z" fill="#ffffff"/>
<path d="M435.00,1431.11 L435.00,1433.81 L453.80,1433.81 L453.80,1427.71 L451.30,1427.71 L451.30,1431.11 Z" fill="#ffffff"/>
<path d="M435.00,1467.76 L435.00,1470.46 L453.80,1470.46 L453.80,1464.36 L451.30,1464.36 L451.30,1467.76 Z" fill="#ffffff"/>
<text transform="translate(435.00,1482.07) rotate(90) scale(0.85,1)" font-family="Liberation Sans" font-size="28" font-weight="normal" fill="#ffffff" text-anchor="middle">2</text>
<path d="M435.00,1518.27 L435.00,1520.97 L453.80,1520.97 L453.80,1514.87 L451.30,1514.87 L451.30,1518.27 Z" fill="#ffffff"/>
<text transform="translate(435.00,1532.58) rotate(90) scale(0.85,1)" font-family="Liberation Sans" font-size="28" font-weight="normal" fill="#ffffff" text-anchor="middle">3</text>
<path d="M435.00,1568.78 L435.00,1571.48 L453.80,1571.48 L453.80,1565.38 L451.30,1565.38 L451.30,1568.78 Z" fill="#ffffff"/>
<text transform="translate(435.00,1583.09) rotate(90) scale(0.85,1)" font-family="Liberation Sans" font-size="28" font-weight="normal" fill="#ffffff" text-anchor="middle">4</text>
<path d="M435.00,1619.29 L435.00,1621.99 L453.80,1621.99 L453.80,1615.89 L451.30,1615.89 L451.30,1619.29 Z" fill="#ffffff"/>
<text transform="translate(435.00,1633.60) rotate(90) scale(0.85,1)" font-family="Liberation Sans" font-size="28" font-weight="normal" fill="#ffffff" text-anchor="middle">5</text>
<path d="M435.00,1669.80 L435.00,1672.50 L453.80,1672.50 L453.80,1666.40 L451.30,1666.40 L451.30,1669.80 Z" fill="#ffffff"/>
<text transform="translate(435.00,1684.11) rotate(90) scale(0.85,1)" font-family="Liberation Sans" font-size="28" font-weight="normal" fill="#ffffff" text-anchor="middle">6</text>
<path d="M435.00,1720.31 L435.00,1723.01 L453.80,1723.01 L453.80,1716.91 L451.30,1716.91 L451.30,1720.31 Z" fill="#ffffff"/>
<text transform="translate(435.00,1734.62) rotate(90) scale(0.85,1)" font-family="Liberation Sans" font-size="28" font-weight="normal" fill="#ffffff" text-anchor="middle">7</text>
<path d="M435.00,1770.82 L435.00,1773.52 L453.80,1773.52 L453.80,1767.42 L451.30,1767.42 L451.30,1770.82 Z" fill="#ffffff"/>
<text transform="translate(435.00,1785.13) rotate(90) scale(0.85,1)" font-family="Liberation Sans" font-size="28" font-weight="normal" fill="#ffffff" text-anchor="middle">8</text>
<path d="M270.70,1770.82 L270.70,1773.52 L289.50,1773.52 L289.50,1767.42 L287.00,1767.42 L287.00,1770.82 Z" fill="#ffffff"/>
<text transform="translate(270.70,1785.13) rotate(90) scale(0.85,1)" font-family="Liberation Sans" font-size="28" font-weight="normal" fill="#ffffff" text-anchor="middle">9</text>
<text transform="translate(270.70,1720.76) rotate(90) scale(0.85,1)" font-family="Liberation Sans" font-size="28" font-weight="normal" fill="#ffffff" text-anchor="middle">2</text>
<text transform="translate(270.70,1734.62) rotate(90) scale(0.85,1)" font-family="Liberation Sans" font-size="28" font-weight="normal" fill="#ffffff" text-anchor="middle">0</text>
<text transform="translate(270.70,1670.25) rotate(90) scale(0.85,1)" font-family="Liberation Sans" font-size="28" font-weight="normal" fill="#ffffff" text-anchor="middle">2</text>
<path d="M270.70,1683.66 L270.70,1686.36 L289.50,1686.36 L289.50,1680.26 L287.00,1680.26 L287.00,1683.66 Z" fill="#ffffff"/>
<text transform="translate(270.70,1619.74) rotate(90) scale(0.85,1)" font-family="Liberation Sans" font-size="28" font-weight="normal" fill="#8b8d90" text-anchor="middle">2</text>
<text transform="translate(270.70,1633.60) rotate(90) scale(0.85,1)" font-family="Liberation Sans" font-size="28" font-weight="normal" fill="#8b8d90" text-anchor="middle">2</text>
<text transform="translate(270.70,1569.23) rotate(90) scale(0.85,1)" font-family="Liberation Sans" font-size="28" font-weight="normal" fill="#ffffff" text-anchor="middle">2</text>
<text transform="translate(270.70,1583.09) rotate(90) scale(0.85,1)" font-family="Liberation Sans" font-size="28" font-weight="normal" fill="#ffffff" text-anchor="middle">3</text>
<text transform="translate(270.70,1518.72) rotate(90) scale(0.85,1)" font-family="Liberation Sans" font-size="28" font-weight="normal" fill="#ffffff" text-anchor="middle">2</text>
<text transform="translate(270.70,1532.58) rotate(90) scale(0.85,1)" font-family="Liberation Sans" font-size="28" font-weight="normal" fill="#ffffff" text-anchor="middle">4</text>
<text transform="translate(270.70,1468.21) rotate(90) scale(0.85,1)" font-family="Liberation Sans" font-size="28" font-weight="normal" fill="#ffffff" text-anchor="middle">2</text>
<text transform="translate(270.70,1482.07) rotate(90) scale(0.85,1)" font-family="Liberation Sans" font-size="28" font-weight="normal" fill="#ffffff" text-anchor="middle">5</text>
<text transform="translate(270.70,1417.70) rotate(90) scale(0.85,1)" font-family="Liberation Sans" font-size="28" font-weight="normal" fill="#8b8d90" text-anchor="middle">2</text>
<text transform="translate(270.70,1431.56) rotate(90) scale(0.85,1)" font-family="Liberation Sans" font-size="28" font-weight="normal" fill="#8b8d90" text-anchor="middle">6</text>
<text transform="translate(270.70,1367.19) rotate(90) scale(0.85,1)" font-family="Liberation Sans" font-size="28" font-weight="normal" fill="#ffffff" text-anchor="middle">2</text>
<text transform="translate(270.70,1381.05) rotate(90) scale(0.85,1)" font-family="Liberation Sans" font-size="28" font-weight="normal" fill="#ffffff" text-anchor="middle">7</text>
<text transform="translate(270.70,1316.68) rotate(90) scale(0.85,1)" font-family="Liberation Sans" font-size="28" font-weight="normal" fill="#ffffff" text-anchor="middle">2</text>
<text transform="translate(270.70,1330.54) rotate(90) scale(0.85,1)" font-family="Liberation Sans" font-size="28" font-weight="normal" fill="#ffffff" text-anchor="middle">8</text>
<text transform="translate(270.70,1266.17) rotate(90) scale(0.85,1)" font-family="Liberation Sans" font-size="28" font-weight="normal" fill="#ffffff" text-anchor="middle">2</text>
<text transform="translate(270.70,1280.03) rotate(90) scale(0.85,1)" font-family="Liberation Sans" font-size="28" font-weight="normal" fill="#ffffff" text-anchor="middle">9</text>
<text transform="translate(270.70,1215.66) rotate(90) scale(0.85,1)" font-family="Liberation Sans" font-size="28" font-weight="normal" fill="#ffffff" text-anchor="middle">3</text>
<text transform="translate(270.70,1229.52) rotate(90) scale(0.85,1)" font-family="Liberation Sans" font-size="28" font-weight="normal" fill="#ffffff" text-anchor="middle">0</text>
<text transform="translate(270.70,1165.15) rotate(90) scale(0.85,1)" font-family="Liberation Sans" font-size="28" font-weight="normal" fill="#ffffff" text-anchor="middle">3</text>
<path d="M270.70,1178.56 L270.70,1181.26 L289.50,1181.26 L289.50,1175.16 L287.00,1175.16 L287.00,1178.56 Z" fill="#ffffff"/>
<path d="M270.70,1121.12 L270.70,1123.82 L289.50,1123.82 L289.50,1117.72 L287.00,1117.72 L287.00,1121.12 Z" fill="#8b8d90"/>
<text transform="translate(270.70,1071.06) rotate(90) scale(0.85,1)" font-family="Liberation Sans" font-size="28" font-weight="normal" fill="#8b8d90" text-anchor="middle">2</text>
<text transform="translate(270.70,1020.55) rotate(90) scale(0.85,1)" font-family="Liberation Sans" font-size="28" font-weight="normal" fill="#8b8d90" text-anchor="middle">3</text>
<text transform="translate(270.70,970.05) rotate(90) scale(0.85,1)" font-family="Liberation Sans" font-size="28" font-weight="normal" fill="#ffffff" text-anchor="middle">4</text>
<text transform="translate(270.70,919.54) rotate(90) scale(0.85,1)" font-family="Liberation Sans" font-size="28" font-weight="normal" fill="#ffffff" text-anchor="middle">5</text>
<text transform="translate(270.70,869.03) rotate(90) scale(0.85,1)" font-family="Liberation Sans" font-size="28" font-weight="normal" fill="#ffffff" text-anchor="middle">6</text>
<text transform="translate(270.70,818.52) rotate(90) scale(0.85,1)" font-family="Liberation Sans" font-size="28" font-weight="normal" fill="#ffffff" text-anchor="middle">7</text>
<text transform="translate(270.70,768.01) rotate(90) scale(0.85,1)" font-family="Liberation Sans" font-size="28" font-weight="normal" fill="#ffffff" text-anchor="middle">8</text>
<text transform="translate(270.70,717.50) rotate(90) scale(0.85,1)" font-family="Liberation Sans" font-size="28" font-weight="normal" fill="#ffffff" text-anchor="middle">9</text>
<path d="M270.70,659.61 L270.70,662.31 L289.50,662.31 L289.50,656.21 L287.00,656.21 L287.00,659.61 Z" fill="#ffffff"/>
<text transform="translate(270.70,673.92) rotate(90) scale(0.85,1)" font-family="Liberation Sans" font-size="28" font-weight="normal" fill="#ffffff" text-anchor="middle">0</text>
<path d="M270.70,609.10 L270.70,611.80 L289.50,611.80 L289.50,605.70 L287.00,605.70 L287.00,609.10 Z" fill="#ffffff"/>
<path d="M270.70,622.96 L270.70,625.66 L289.50,625.66 L289.50,619.56 L287.00,619.56 L287.00,622.96 Z" fill="#ffffff"/>
<path d="M270.70,558.59 L270.70,561.29 L289.50,561.29 L289.50,555.19 L287.00,555.19 L287.00,558.59 Z" fill="#ffffff"/>
<text transform="translate(270.70,572.90) rotate(90) scale(0.85,1)" font-family="Liberation Sans" font-size="28" font-weight="normal" fill="#ffffff" text-anchor="middle">2</text>
<path d="M270.70,508.08 L270.70,510.78 L289.50,510.78 L289.50,504.68 L287.00,504.68 L287.00,508.08 Z" fill="#ffffff"/>
<text transform="translate(270.70,522.39) rotate(90) scale(0.85,1)" font-family="Liberation Sans" font-size="28" font-weight="normal" fill="#ffffff" text-anchor="middle">3</text>
<path d="M270.70,457.57 L270.70,460.27 L289.50,460.27 L289.50,454.17 L287.00,454.17 L287.00,457.57 Z" fill="#ffffff"/>
<text transform="translate(270.70,471.88) rotate(90) scale(0.85,1)" font-family="Liberation Sans" font-size="28" font-weight="normal" fill="#ffffff" text-anchor="middle">4</text>
<path d="M270.70,407.06 L270.70,409.76 L289.50,409.76 L289.50,403.66 L287.00,403.66 L287.00,407.06 Z" fill="#ffffff"/>
<text transform="translate(270.70,421.37) rotate(90) scale(0.85,1)" font-family="Liberation Sans" font-size="28" font-weight="normal" fill="#ffffff" text-anchor="middle">5</text>
<path d="M270.70,356.55 L270.70,359.25 L289.50,359.25 L289.50,353.15 L287.00,353.15 L287.00,356.55 Z" fill="#ffffff"/>
<text transform="translate(270.70,370.86) rotate(90) scale(0.85,1)" font-family="Liberation Sans" font-size="28" font-weight="normal" fill="#ffffff" text-anchor="middle">6</text>
<path d="M270.70,306.04 L270.70,308.74 L289.50,308.74 L289.50,302.64 L287.00,302.64 L287.00,306.04 Z" fill="#ffffff"/>
<text transform="translate(270.70,320.35) rotate(90) scale(0.85,1)" font-family="Liberation Sans" font-size="28" font-weight="normal" fill="#ffffff" text-anchor="middle">7</text>
<path d="M270.70,255.53 L270.70,258.23 L289.50,258.23 L289.50,252.13 L287.00,252.13 L287.00,255.53 Z" fill="#ffffff"/>
<text transform="translate(270.70,269.84) rotate(90) scale(0.85,1)" font-family="Liberation Sans" font-size="28" font-weight="normal" fill="#ffffff" text-anchor="middle">8</text>
<path d="M270.70,205.02 L270.70,207.72 L289.50,207.72 L289.50,201.62 L287.00,201.62 L287.00,205.02 Z" fill="#8b8d90"/>
<text transform="translate(270.70,219.33) rotate(90) scale(0.85,1)" font-family="Liberation Sans" font-size="28" font-weight="normal" fill="#8b8d90" text-anchor="middle">9</text>
<text transform="translate(109.40,205.47) rotate(90) scale(0.85,1)" font-family="Liberation Sans" font-size="28" font-weight="normal" fill="#ffffff" text-anchor="middle">2</text>
<text transform="translate(109.40,219.33) rotate(90) scale(0.85,1)" font-family="Liberation Sans" font-size="28" font-weight="normal" fill="#ffffff" text-anchor="middle">0</text>
<text transform="translate(109.40,255.98) rotate(90) scale(0.85,1)" font-family="Liberation Sans" font-size="28" font-weight="normal" fill="#ffffff" text-anchor="middle">2</text>
<path d="M109.40,269.39 L109.40,272.09 L128.20,272.09 L128.20,265.99 L125.70,265.99 L125.70,269.39 Z" fill="#ffffff"/>
<text transform="translate(109.40,306.49) rotate(90) scale(0.85,1)" font-family="Liberation Sans" font-size="28" font-weight="normal" fill="#ffffff" text-anchor="middle">2</text>
<text transform="translate(109.40,320.35) rotate(90) scale(0.85,1)" font-family="Liberation Sans" font-size="28" font-weight="normal" fill="#ffffff" text-anchor="middle">2</text>
<text transform="translate(109.40,357.00) rotate(90) scale(0.85,1)" font-family="Liberation Sans" font-size="28" font-weight="normal" fill="#ffffff" text-anchor="middle">2</text>
<text transform="translate(109.40,370.86) rotate(90) scale(0.85,1)" font-family="Liberation Sans" font-size="28" font-weight="normal" fill="#ffffff" text-anchor="middle">3</text>
<text transform="translate(109.40,407.51) rotate(90) scale(0.85,1)" font-family="Liberation Sans" font-size="28" font-weight="normal" fill="#ffffff" text-anchor="middle">2</text>
<text transform="translate(109.40,421.37) rotate(90) scale(0.85,1)" font-family="Liberation Sans" font-size="28" font-weight="normal" fill="#ffffff" text-anchor="middle">4</text>
<text transform="translate(109.40,458.02) rotate(90) scale(0.85,1)" font-family="Liberation Sans" font-size="28" font-weight="normal" fill="#ffffff" text-anchor="middle">2</text>
<text transform="translate(109.40,471.88) rotate(90) scale(0.85,1)" font-family="Liberation Sans" font-size="28" font-weight="normal" fill="#ffffff" text-anchor="middle">5</text>
<text transform="translate(109.40,508.53) rotate(90) scale(0.85,1)" font-family="Liberation Sans" font-size="28" font-weight="normal" fill="#8b8d90" text-anchor="middle">2</text>
<text transform="translate(109.40,522.39) rotate(90) scale(0.85,1)" font-family="Liberation Sans" font-size="28" font-weight="normal" fill="#8b8d90" text-anchor="middle">6</text>
<text transform="translate(109.40,559.04) rotate(90) scale(0.85,1)" font-family="Liberation Sans" font-size="28" font-weight="normal" fill="#ffffff" text-anchor="middle">2</text>
<text transform="translate(109.40,572.90) rotate(90) scale(0.85,1)" font-family="Liberation Sans" font-size="28" font-weight="normal" fill="#ffffff" text-anchor="middle">7</text>
<text transform="translate(109.40,609.55) rotate(90) scale(0.85,1)" font-family="Liberation Sans" font-size="28" font-weight="normal" fill="#ffffff" text-anchor="middle">2</text>
<text transform="translate(109.40,623.41) rotate(90) scale(0.85,1)" font-family="Liberation Sans" font-size="28" font-weight="normal" fill="#ffffff" text-anchor="middle">8</text>
<text transform="translate(109.40,660.06) rotate(90) scale(0.85,1)" font-family="Liberation Sans" font-size="28" font-weight="normal" fill="#ffffff" text-anchor="middle">2</text>
<text transform="translate(109.40,673.92) rotate(90) scale(0.85,1)" font-family="Liberation Sans" font-size="28" font-weight="normal" fill="#ffffff" text-anchor="middle">9</text>
<text transform="translate(109.40,710.57) rotate(90) scale(0.85,1)" font-family="Liberation Sans" font-size="28" font-weight="normal" fill="#ffffff" text-anchor="middle">3</text>
<text transform="translate(109.40,724.43) rotate(90) scale(0.85,1)" font-family="Liberation Sans" font-size="28" font-weight="normal" fill="#ffffff" text-anchor="middle">0</text>
<path d="M867.80,578.05 L867.80,583.35 L897.60,583.35 L897.60,572.65 L892.40,572.65 L892.40,578.05 Z" fill="#ffffff"/>
<text transform="translate(867.80,596.25) rotate(90) scale(0.85,1)" font-family="Liberation Sans" font-size="44" font-weight="bold" fill="#ffffff" text-anchor="middle">.</text>
<text transform="translate(867.80,612.30) rotate(90) scale(0.85,1)" font-family="Liberation Sans" font-size="44" font-weight="bold" fill="#ffffff" text-anchor="middle">0</text>
<path d="M867.80,631.65 L867.80,636.95 L897.60,636.95 L897.60,626.25 L892.40,626.25 L892.40,631.65 Z" fill="#ffffff"/>
<text transform="translate(867.80,655.30) rotate(90) scale(0.85,1)" font-family="Liberation Sans" font-size="44" font-weight="bold" fill="#ffffff" text-anchor="middle">0</text>
<text transform="translate(831.90,1184.95) rotate(90) scale(0.85,1)" font-family="Liberation Sans" font-size="44" font-weight="bold" fill="#ffffff" text-anchor="middle">2</text>
<text transform="translate(831.90,1201.00) rotate(90) scale(0.85,1)" font-family="Liberation Sans" font-size="44" font-weight="bold" fill="#ffffff" text-anchor="middle">.</text>
<text transform="translate(831.90,1217.05) rotate(90) scale(0.85,1)" font-family="Liberation Sans" font-size="44" font-weight="bold" fill="#ffffff" text-anchor="middle">0</text>
<text transform="translate(831.90,1238.55) rotate(90) scale(0.85,1)" font-family="Liberation Sans" font-size="44" font-weight="bold" fill="#ffffff" text-anchor="middle">8</text>
<text transform="translate(831.90,1260.05) rotate(90) scale(0.85,1)" font-family="Liberation Sans" font-size="44" font-weight="bold" fill="#ffffff" text-anchor="middle">7</text>
<text transform="translate(670.40,1184.70) rotate(90) scale(0.85,1)" font-family="Liberation Sans" font-size="44" font-weight="bold" fill="#ffffff" text-anchor="middle">5</text>
<text transform="translate(670.40,1200.75) rotate(90) scale(0.85,1)" font-family="Liberation Sans" font-size="44" font-weight="bold" fill="#ffffff" text-anchor="middle">.</text>
<path d="M670.40,1214.65 L670.40,1219.95 L700.20,1219.95 L700.20,1209.25 L695.00,1209.25 L695.00,1214.65 Z" fill="#ffffff"/>
<text transform="translate(670.40,1238.30) rotate(90) scale(0.85,1)" font-family="Liberation Sans" font-size="44" font-weight="bold" fill="#ffffff" text-anchor="middle">3</text>
<text transform="translate(670.40,1259.80) rotate(90) scale(0.85,1)" font-family="Liberation Sans" font-size="44" font-weight="bold" fill="#ffffff" text-anchor="middle">0</text>
<path d="M665.40,315.95 L665.40,321.25 L695.20,321.25 L695.20,310.55 L690.00,310.55 L690.00,315.95 Z" fill="#ffffff"/>
<text transform="translate(665.40,339.60) rotate(90) scale(0.85,1)" font-family="Liberation Sans" font-size="44" font-weight="bold" fill="#ffffff" text-anchor="middle">0</text>
<text transform="translate(665.40,355.65) rotate(90) scale(0.85,1)" font-family="Liberation Sans" font-size="44" font-weight="bold" fill="#ffffff" text-anchor="middle">.</text>
<text transform="translate(665.40,371.70) rotate(90) scale(0.85,1)" font-family="Liberation Sans" font-size="44" font-weight="bold" fill="#ffffff" text-anchor="middle">0</text>
<path d="M665.40,391.05 L665.40,396.35 L695.20,396.35 L695.20,385.65 L690.00,385.65 L690.00,391.05 Z" fill="#ffffff"/>
<text transform="translate(665.40,414.70) rotate(90) scale(0.85,1)" font-family="Liberation Sans" font-size="44" font-weight="bold" fill="#ffffff" text-anchor="middle">0</text>
<text transform="translate(513.00,921.80) rotate(90) scale(0.85,1)" font-family="Liberation Sans" font-size="44" font-weight="bold" fill="#ffffff" text-anchor="middle">2</text>
<text transform="translate(513.00,943.30) rotate(90) scale(0.85,1)" font-family="Liberation Sans" font-size="44" font-weight="bold" fill="#ffffff" text-anchor="middle">0</text>
<text transform="translate(513.00,959.35) rotate(90) scale(0.85,1)" font-family="Liberation Sans" font-size="44" font-weight="bold" fill="#ffffff" text-anchor="middle">.</text>
<text transform="translate(513.00,975.40) rotate(90) scale(0.85,1)" font-family="Liberation Sans" font-size="44" font-weight="bold" fill="#ffffff" text-anchor="middle">2</text>
<text transform="translate(513.00,996.90) rotate(90) scale(0.85,1)" font-family="Liberation Sans" font-size="44" font-weight="bold" fill="#ffffff" text-anchor="middle">0</text>
<text transform="translate(513.00,1018.40) rotate(90) scale(0.85,1)" font-family="Liberation Sans" font-size="44" font-weight="bold" fill="#ffffff" text-anchor="middle">6</text>
<text transform="translate(513.00,1478.10) rotate(90) scale(0.85,1)" font-family="Liberation Sans" font-size="44" font-weight="bold" fill="#ffffff" text-anchor="middle">3</text>
<text transform="translate(513.00,1499.60) rotate(90) scale(0.85,1)" font-family="Liberation Sans" font-size="44" font-weight="bold" fill="#ffffff" text-anchor="middle">0</text>
<text transform="translate(513.00,1515.65) rotate(90) scale(0.85,1)" font-family="Liberation Sans" font-size="44" font-weight="bold" fill="#ffffff" text-anchor="middle">.</text>
<text transform="translate(513.00,1531.70) rotate(90) scale(0.85,1)" font-family="Liberation Sans" font-size="44" font-weight="bold" fill="#ffffff" text-anchor="middle">3</text>
<text transform="translate(513.00,1553.20) rotate(90) scale(0.85,1)" font-family="Liberation Sans" font-size="44" font-weight="bold" fill="#ffffff" text-anchor="middle">6</text>
<text transform="translate(513.00,1574.70) rotate(90) scale(0.85,1)" font-family="Liberation Sans" font-size="44" font-weight="bold" fill="#ffffff" text-anchor="middle">9</text>
<text transform="translate(350.50,1478.10) rotate(90) scale(0.85,1)" font-family="Liberation Sans" font-size="44" font-weight="bold" fill="#ffffff" text-anchor="middle">4</text>
<text transform="translate(350.50,1499.60) rotate(90) scale(0.85,1)" font-family="Liberation Sans" font-size="44" font-weight="bold" fill="#ffffff" text-anchor="middle">0</text>
<text transform="translate(350.50,1515.65) rotate(90) scale(0.85,1)" font-family="Liberation Sans" font-size="44" font-weight="bold" fill="#ffffff" text-anchor="middle">.</text>
<text transform="translate(350.50,1531.70) rotate(90) scale(0.85,1)" font-family="Liberation Sans" font-size="44" font-weight="bold" fill="#ffffff" text-anchor="middle">3</text>
<text transform="translate(350.50,1553.20) rotate(90) scale(0.85,1)" font-family="Liberation Sans" font-size="44" font-weight="bold" fill="#ffffff" text-anchor="middle">3</text>
<text transform="translate(350.50,1574.70) rotate(90) scale(0.85,1)" font-family="Liberation Sans" font-size="44" font-weight="bold" fill="#ffffff" text-anchor="middle">8</text>
<text transform="translate(349.00,921.80) rotate(90) scale(0.85,1)" font-family="Liberation Sans" font-size="44" font-weight="bold" fill="#ffffff" text-anchor="middle">5</text>
<text transform="translate(349.00,943.30) rotate(90) scale(0.85,1)" font-family="Liberation Sans" font-size="44" font-weight="bold" fill="#ffffff" text-anchor="middle">0</text>
<text transform="translate(349.00,959.35) rotate(90) scale(0.85,1)" font-family="Liberation Sans" font-size="44" font-weight="bold" fill="#ffffff" text-anchor="middle">.</text>
<text transform="translate(349.00,975.40) rotate(90) scale(0.85,1)" font-family="Liberation Sans" font-size="44" font-weight="bold" fill="#ffffff" text-anchor="middle">9</text>
<text transform="translate(349.00,996.90) rotate(90) scale(0.85,1)" font-family="Liberation Sans" font-size="44" font-weight="bold" fill="#ffffff" text-anchor="middle">7</text>
<text transform="translate(349.00,1018.40) rotate(90) scale(0.85,1)" font-family="Liberation Sans" font-size="44" font-weight="bold" fill="#ffffff" text-anchor="middle">3</text>
<text transform="translate(346.80,467.20) rotate(90) scale(0.85,1)" font-family="Liberation Sans" font-size="44" font-weight="bold" fill="#ffffff" text-anchor="middle">6</text>
<text transform="translate(346.80,488.70) rotate(90) scale(0.85,1)" font-family="Liberation Sans" font-size="44" font-weight="bold" fill="#ffffff" text-anchor="middle">0</text>
<text transform="translate(346.80,504.75) rotate(90) scale(0.85,1)" font-family="Liberation Sans" font-size="44" font-weight="bold" fill="#ffffff" text-anchor="middle">.</text>
<text transform="translate(346.80,520.80) rotate(90) scale(0.85,1)" font-family="Liberation Sans" font-size="44" font-weight="bold" fill="#ffffff" text-anchor="middle">5</text>
<text transform="translate(346.80,542.30) rotate(90) scale(0.85,1)" font-family="Liberation Sans" font-size="44" font-weight="bold" fill="#ffffff" text-anchor="middle">4</text>
<text transform="translate(346.80,563.80) rotate(90) scale(0.85,1)" font-family="Liberation Sans" font-size="44" font-weight="bold" fill="#ffffff" text-anchor="middle">0</text>
<text transform="translate(189.10,364.40) rotate(90) scale(0.85,1)" font-family="Liberation Sans" font-size="44" font-weight="bold" fill="#ffffff" text-anchor="middle">7</text>
<text transform="translate(189.10,385.90) rotate(90) scale(0.85,1)" font-family="Liberation Sans" font-size="44" font-weight="bold" fill="#ffffff" text-anchor="middle">0</text>
<text transform="translate(189.10,401.95) rotate(90) scale(0.85,1)" font-family="Liberation Sans" font-size="44" font-weight="bold" fill="#ffffff" text-anchor="middle">.</text>
<text transform="translate(189.10,418.00) rotate(90) scale(0.85,1)" font-family="Liberation Sans" font-size="44" font-weight="bold" fill="#ffffff" text-anchor="middle">4</text>
<text transform="translate(189.10,439.50) rotate(90) scale(0.85,1)" font-family="Liberation Sans" font-size="44" font-weight="bold" fill="#ffffff" text-anchor="middle">0</text>
<text transform="translate(189.10,461.00) rotate(90) scale(0.85,1)" font-family="Liberation Sans" font-size="44" font-weight="bold" fill="#ffffff" text-anchor="middle">6</text>
<text transform="translate(722.00,214.72) rotate(90) scale(0.68,1)" font-family="Liberation Sans" font-size="20" font-weight="normal" fill="#e3931f" text-anchor="middle" letter-spacing="5.66" stroke="#e3931f" stroke-width="0.45">MARZO</text>
<text transform="translate(722.00,328.40) rotate(90) scale(0.68,1)" font-family="Liberation Sans" font-size="20" font-weight="normal" fill="#e3931f" text-anchor="middle" letter-spacing="5.0" stroke="#e3931f" stroke-width="0.45">ABRIL</text>
<text transform="translate(722.00,491.25) rotate(90) scale(0.68,1)" font-family="Liberation Sans" font-size="20" font-weight="normal" fill="#e3931f" text-anchor="middle" letter-spacing="5.44" stroke="#e3931f" stroke-width="0.45">MAYO</text>
<text transform="translate(722.50,1050.67) rotate(90) scale(0.68,1)" font-family="Liberation Sans" font-size="20" font-weight="normal" fill="#e3931f" text-anchor="middle" letter-spacing="4.9" stroke="#e3931f" stroke-width="0.45">JUNIO</text>
<text transform="translate(560.00,1041.10) rotate(90) scale(0.68,1)" font-family="Liberation Sans" font-size="20" font-weight="normal" fill="#e3931f" text-anchor="middle" letter-spacing="5.0" stroke="#e3931f" stroke-width="0.45">JULIO</text>
<text transform="translate(400.00,896.97) rotate(90) scale(0.68,1)" font-family="Liberation Sans" font-size="20" font-weight="normal" fill="#e3931f" text-anchor="middle" letter-spacing="4.62" stroke="#e3931f" stroke-width="0.45">AGOSTO</text>
<text transform="translate(239.20,1146.44) rotate(90) scale(0.68,1)" font-family="Liberation Sans" font-size="20" font-weight="normal" fill="#e3931f" text-anchor="middle" letter-spacing="4.23" stroke="#e3931f" stroke-width="0.45">SEPTIEMBRE</text>
<text transform="translate(928.80,616.90) rotate(90) scale(0.82,1)" font-family="Liberation Sans" font-size="30" font-weight="normal" fill="#8c8d8f" text-anchor="middle">E</text>
<text transform="translate(928.80,639.35) rotate(90) scale(0.82,1)" font-family="Liberation Sans" font-size="30" font-weight="normal" fill="#8c8d8f" text-anchor="middle">V</text>
<text transform="translate(928.80,663.00) rotate(90) scale(0.82,1)" font-family="Liberation Sans" font-size="30" font-weight="normal" fill="#8c8d8f" text-anchor="middle">O</text>
<text transform="translate(928.80,688.65) rotate(90) scale(0.82,1)" font-family="Liberation Sans" font-size="30" font-weight="normal" fill="#8c8d8f" text-anchor="middle">L</text>
<text transform="translate(928.80,711.35) rotate(90) scale(0.82,1)" font-family="Liberation Sans" font-size="30" font-weight="normal" fill="#8c8d8f" text-anchor="middle">U</text>
<text transform="translate(928.80,735.90) rotate(90) scale(0.82,1)" font-family="Liberation Sans" font-size="30" font-weight="normal" fill="#8c8d8f" text-anchor="middle">C</text>
<text transform="translate(928.80,754.50) rotate(90) scale(0.82,1)" font-family="Liberation Sans" font-size="30" font-weight="normal" fill="#8c8d8f" text-anchor="middle">I</text>
<text transform="translate(928.80,775.00) rotate(90) scale(0.82,1)" font-family="Liberation Sans" font-size="30" font-weight="normal" fill="#8c8d8f" text-anchor="middle">Ó</text>
<text transform="translate(928.80,800.75) rotate(90) scale(0.82,1)" font-family="Liberation Sans" font-size="30" font-weight="normal" fill="#8c8d8f" text-anchor="middle">N</text>
<text transform="translate(928.80,840.55) rotate(90) scale(0.82,1)" font-family="Liberation Sans" font-size="30" font-weight="normal" fill="#8c8d8f" text-anchor="middle">D</text>
<text transform="translate(928.80,864.40) rotate(90) scale(0.82,1)" font-family="Liberation Sans" font-size="30" font-weight="normal" fill="#8c8d8f" text-anchor="middle">E</text>
<text transform="translate(928.80,886.75) rotate(90) scale(0.82,1)" font-family="Liberation Sans" font-size="30" font-weight="normal" fill="#8c8d8f" text-anchor="middle">L</text>
<text transform="translate(928.80,922.90) rotate(90) scale(0.82,1)" font-family="Liberation Sans" font-size="30" font-weight="normal" fill="#8c8d8f" text-anchor="middle">C</text>
<text transform="translate(928.80,946.50) rotate(90) scale(0.82,1)" font-family="Liberation Sans" font-size="30" font-weight="normal" fill="#8c8d8f" text-anchor="middle">O</text>
<text transform="translate(928.80,971.85) rotate(90) scale(0.82,1)" font-family="Liberation Sans" font-size="30" font-weight="normal" fill="#8c8d8f" text-anchor="middle">V</text>
<text transform="translate(928.80,991.40) rotate(90) scale(0.82,1)" font-family="Liberation Sans" font-size="30" font-weight="normal" fill="#8c8d8f" text-anchor="middle">I</text>
<text transform="translate(928.80,1011.00) rotate(90) scale(0.82,1)" font-family="Liberation Sans" font-size="30" font-weight="normal" fill="#8c8d8f" text-anchor="middle">D</text>
<text transform="translate(928.80,1034.35) rotate(90) scale(0.82,1)" font-family="Liberation Sans" font-size="30" font-weight="normal" fill="#8c8d8f" text-anchor="middle">-</text>
<path d="M929.00,1053.25 L929.00,1055.65 L949.20,1055.65 L949.20,1049.45 L946.30,1049.45 L946.30,1053.25 Z" fill="#8c8d8f"/>
<text transform="translate(928.80,1077.60) rotate(90) scale(0.82,1)" font-family="Liberation Sans" font-size="30" font-weight="normal" fill="#8c8d8f" text-anchor="middle">9</text>
<text transform="translate(928.80,1113.25) rotate(90) scale(0.82,1)" font-family="Liberation Sans" font-size="30" font-weight="normal" fill="#8c8d8f" text-anchor="middle">E</text>
<text transform="translate(928.80,1136.35) rotate(90) scale(0.82,1)" font-family="Liberation Sans" font-size="30" font-weight="normal" fill="#8c8d8f" text-anchor="middle">N</text>
<text transform="translate(928.80,1174.60) rotate(90) scale(0.82,1)" font-family="Liberation Sans" font-size="30" font-weight="normal" fill="#8c8d8f" text-anchor="middle">V</text>
<text transform="translate(928.80,1199.60) rotate(90) scale(0.82,1)" font-family="Liberation Sans" font-size="30" font-weight="normal" fill="#8c8d8f" text-anchor="middle">E</text>
<text transform="translate(928.80,1222.90) rotate(90) scale(0.82,1)" font-family="Liberation Sans" font-size="30" font-weight="normal" fill="#8c8d8f" text-anchor="middle">N</text>
<text transform="translate(928.80,1247.10) rotate(90) scale(0.82,1)" font-family="Liberation Sans" font-size="30" font-weight="normal" fill="#8c8d8f" text-anchor="middle">E</text>
<text transform="translate(928.80,1269.15) rotate(90) scale(0.82,1)" font-family="Liberation Sans" font-size="30" font-weight="normal" fill="#8c8d8f" text-anchor="middle">Z</text>
<text transform="translate(928.80,1294.15) rotate(90) scale(0.82,1)" font-family="Liberation Sans" font-size="30" font-weight="normal" fill="#8c8d8f" text-anchor="middle">U</text>
<text transform="translate(928.80,1318.50) rotate(90) scale(0.82,1)" font-family="Liberation Sans" font-size="30" font-weight="normal" fill="#8c8d8f" text-anchor="middle">E</text>
<text transform="translate(928.80,1339.75) rotate(90) scale(0.82,1)" font-family="Liberation Sans" font-size="30" font-weight="normal" fill="#8c8d8f" text-anchor="middle">L</text>
<text transform="translate(928.80,1362.10) rotate(90) scale(0.82,1)" font-family="Liberation Sans" font-size="30" font-weight="normal" fill="#8c8d8f" text-anchor="middle">A</text>
<text transform="translate(868.40,440.00) rotate(90) scale(0.754,1)" font-family="Liberation Sans" font-size="27.6" font-weight="bold" fill="#ffffff" text-anchor="middle">7</text>
<path d="M868.80,451.65 L868.80,455.05 L887.10,455.05 L887.10,447.65 L883.70,447.65 L883.70,451.65 Z" fill="#ffffff"/>
<text transform="translate(868.40,486.65) rotate(90) scale(0.754,1)" font-family="Liberation Sans" font-size="27.6" font-weight="bold" fill="#ffffff" text-anchor="middle">días</text>
<text transform="translate(868.40,535.90) rotate(90) scale(0.754,1)" font-family="Liberation Sans" font-size="27.6" font-weight="bold" fill="#ffffff" text-anchor="middle">para</text>
<text transform="translate(868.40,705.60) rotate(90) scale(0.754,1)" font-family="Liberation Sans" font-size="27.6" font-weight="bold" fill="#ffffff" text-anchor="middle">casos</text>
<text transform="translate(868.40,787.80) rotate(90) scale(0.754,1)" font-family="Liberation Sans" font-size="27.6" font-weight="bold" fill="#ffffff" text-anchor="middle">positivos</text>
<text transform="translate(868.40,900.35) rotate(90) scale(0.754,1)" font-family="Liberation Sans" font-size="27.6" font-weight="bold" fill="#ffffff" text-anchor="middle">acumulados</text>
<text transform="translate(141.20,1156.65) rotate(90) scale(0.82,1)" font-family="Liberation Sans" font-size="27.2" font-weight="normal" fill="#ffffff" text-anchor="middle">Representa</text>
<text transform="translate(141.20,1230.85) rotate(90) scale(0.82,1)" font-family="Liberation Sans" font-size="27.2" font-weight="normal" fill="#ffffff" text-anchor="middle">un</text>
<text transform="translate(141.20,1293.75) rotate(90) scale(0.82,1)" font-family="Liberation Sans" font-size="27.2" font-weight="normal" fill="#ffffff" text-anchor="middle">aumento</text>
<text transform="translate(141.20,1355.45) rotate(90) scale(0.82,1)" font-family="Liberation Sans" font-size="27.2" font-weight="normal" fill="#ffffff" text-anchor="middle">de</text>
<text transform="translate(141.20,1467.90) rotate(90) scale(0.82,1)" font-family="Liberation Sans" font-size="27.2" font-weight="normal" fill="#ffffff" text-anchor="middle">casos</text>
<text transform="translate(141.20,1548.75) rotate(90) scale(0.82,1)" font-family="Liberation Sans" font-size="27.2" font-weight="normal" fill="#ffffff" text-anchor="middle">positivos</text>
<text transform="translate(141.20,1612.10) rotate(90) scale(0.82,1)" font-family="Liberation Sans" font-size="27.2" font-weight="normal" fill="#ffffff" text-anchor="middle">en</text>
<text transform="translate(141.20,1638.30) rotate(90) scale(0.82,1)" font-family="Liberation Sans" font-size="27.2" font-weight="normal" fill="#ffffff" text-anchor="middle">la</text>
<text transform="translate(141.20,1676.15) rotate(90) scale(0.82,1)" font-family="Liberation Sans" font-size="27.2" font-weight="normal" fill="#ffffff" text-anchor="middle">cifra</text>
<text transform="translate(141.20,1759.20) rotate(90) scale(0.82,1)" font-family="Liberation Sans" font-size="27.2" font-weight="normal" fill="#ffffff" text-anchor="middle">acumulada</text>
<path d="M141.20,1378.95 L141.20,1381.75 L159.60,1381.75 L159.60,1375.75 L157.00,1375.75 L157.00,1378.95 Z" fill="#ffffff"/>
<text transform="translate(141.20,1389.30) rotate(90) scale(0.82,1)" font-family="Liberation Sans" font-size="27.2" font-weight="normal" fill="#ffffff" text-anchor="middle">.</text>
<text transform="translate(141.20,1399.40) rotate(90) scale(0.82,1)" font-family="Liberation Sans" font-size="27.2" font-weight="normal" fill="#ffffff" text-anchor="middle">0</text>
<text transform="translate(141.20,1412.80) rotate(90) scale(0.82,1)" font-family="Liberation Sans" font-size="27.2" font-weight="normal" fill="#ffffff" text-anchor="middle">0</text>
<text transform="translate(141.20,1426.00) rotate(90) scale(0.82,1)" font-family="Liberation Sans" font-size="27.2" font-weight="normal" fill="#ffffff" text-anchor="middle">0</text>
</svg>
</body></html>
